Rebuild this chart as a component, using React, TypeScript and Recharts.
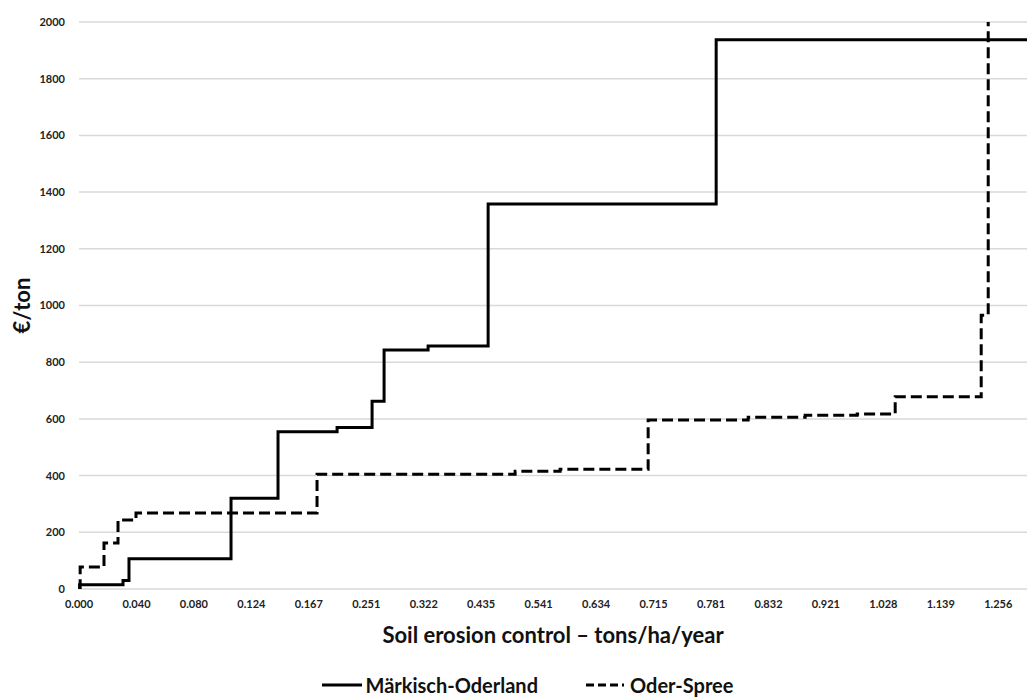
import { LineChart, Line, XAxis, YAxis, CartesianGrid, Legend, Label } from 'recharts'

// category labels shown on the x axis (one every 1 position unit)
const xTickLabels = [
  '0.000', '0.040', '0.080', '0.124', '0.167', '0.251', '0.322', '0.435', '0.541',
  '0.634', '0.715', '0.781', '0.832', '0.921', '1.028', '1.139', '1.256',
]

const yTicks = [0, 200, 400, 600, 800, 1000, 1200, 1400, 1600, 1800, 2000]

// Märkisch-Oderland: step positions (in x-label units) and €/ton
const moPos = [0, 0.01, 0.766, 0.87, 2.646, 3.464, 4.492, 5.101, 5.31, 6.076, 7.121, 11.09, 16.5]
const moCost = [0, 15, 30, 107, 320, 555, 570, 662, 843, 857, 1358, 1937, 1937]

// Oder-Spree
const osPos = [0, 0.02, 0.435, 0.679, 0.992, 4.143, 7.591, 8.374, 9.906, 11.647, 12.639, 13.545, 14.206, 15.703, 15.825]
const osCost = [0, 78, 162, 243, 268, 405, 415, 422, 596, 606, 613, 617, 678, 966, 2100]

const moData = moPos.map((x, i) => ({ x, y: moCost[i] }))
const osData = osPos.map((x, i) => ({ x, y: osCost[i] }))

const FONT = 'Lato, "Open Sans", sans-serif'

const LegendContent = () => (
  <div style={{ display: 'flex', justifyContent: 'center', alignItems: 'center', fontFamily: FONT, fontWeight: 700, fontSize: 20, lineHeight: '24px', color: '#111', paddingLeft: 28, paddingTop: 24 }}>
    <svg width={42} height={10}><line x1={0} y1={5} x2={40} y2={5} stroke="#000" strokeWidth={3} /></svg>
    <span style={{ marginLeft: 2, marginRight: 48 }}>Märkisch-Oderland</span>
    <svg width={42} height={10}><line x1={0} y1={5} x2={38} y2={5} stroke="#000" strokeWidth={3} strokeDasharray="8 4" /></svg>
    <span style={{ marginLeft: 2 }}>Oder-Spree</span>
  </div>
)

export default function App() {
  return (
    <div style={{ position: 'absolute', left: 0, top: 0, background: '#fff' }}>
      <LineChart width={1027} height={697} margin={{ top: 22, right: 0, bottom: 0, left: 0 }}>
        <CartesianGrid vertical={false} stroke="#d9d9d9" strokeWidth={1.5} />
        <XAxis
          dataKey="x"
          type="number"
          domain={[0, 16.5]}
          ticks={xTickLabels.map((_, i) => i)}
          tickFormatter={(v: number) => xTickLabels[v] ?? ''}
          axisLine={false}
          tickLine={false}
          tickMargin={5}
          height={60}
          allowDuplicatedCategory={false}
          tick={{ fill: '#222', fontSize: 11, fontWeight: 700, fontFamily: FONT }}
          interval={0}
        >
          <Label
            value="Soil erosion control – tons/ha/year"
            position="insideBottom"
            offset={6}
            style={{ fill: '#111', fontSize: 22, fontWeight: 700, fontFamily: FONT }}
          />
        </XAxis>
        <YAxis
          type="number"
          domain={[0, 2000]}
          ticks={yTicks}
          allowDataOverflow
          axisLine={false}
          tickLine={false}
          tickMargin={8}
          width={79}
          tick={{ fill: '#222', fontSize: 11, fontWeight: 700, fontFamily: FONT }}
        >
          <Label
            value="€/ton"
            angle={-90}
            position="insideLeft"
            offset={22}
            style={{ textAnchor: 'middle', fill: '#111', fontSize: 22, fontWeight: 700, fontFamily: FONT }}
          />
        </YAxis>
        <Legend verticalAlign="bottom" height={48} content={<LegendContent />} />
        <Line
          data={moData}
          dataKey="y"
          name="Märkisch-Oderland"
          type="stepAfter"
          stroke="#000"
          strokeWidth={3}
          dot={false}
          isAnimationActive={false}
        />
        <Line
          data={osData}
          dataKey="y"
          name="Oder-Spree"
          type="stepAfter"
          stroke="#000"
          strokeWidth={3}
          strokeDasharray="11 5"
          dot={false}
          isAnimationActive={false}
        />
      </LineChart>
    </div>
  )
}
